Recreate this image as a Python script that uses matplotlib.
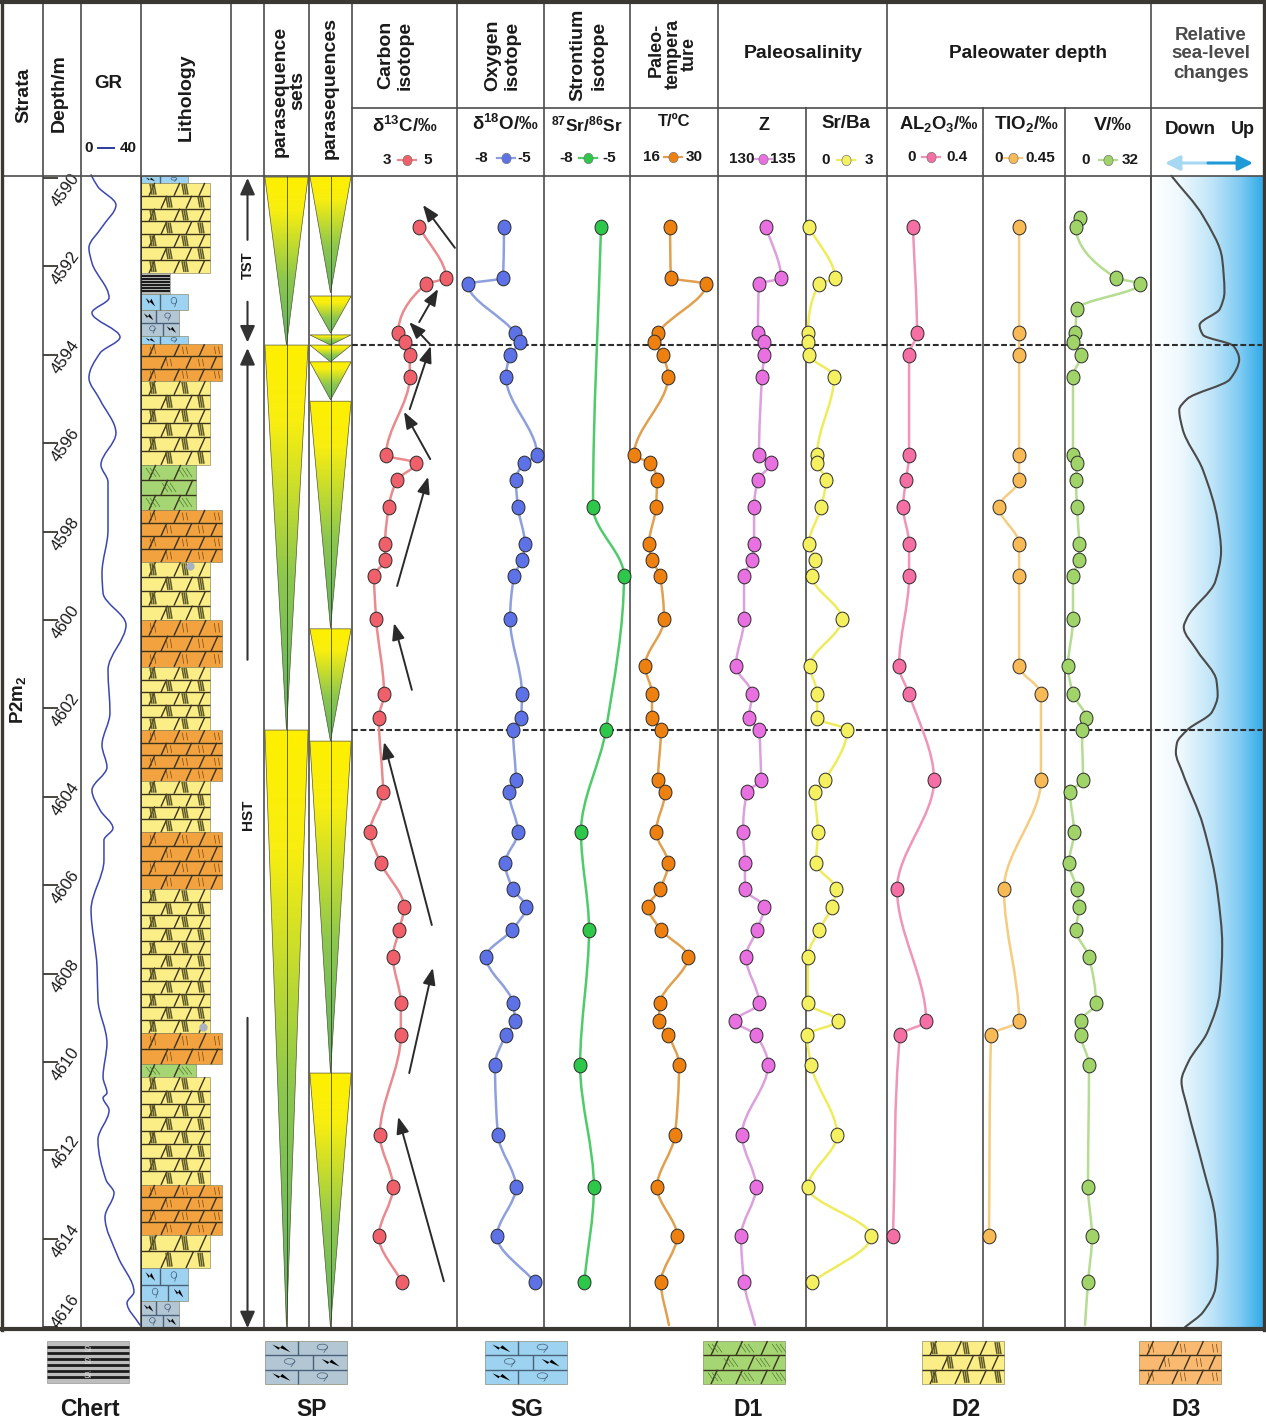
#!/usr/bin/python
# stratigraphic column with isotope / geochemistry logs
import numpy as np
import matplotlib
matplotlib.use("Agg")
import matplotlib.pyplot as plt
from matplotlib.collections import LineCollection
from matplotlib.colors import LinearSegmentedColormap
from matplotlib.markers import MarkerStyle
from matplotlib.patches import Ellipse, PathPatch, Polygon, Rectangle
from matplotlib.path import Path
from matplotlib.transforms import Affine2D

plt.rcParams["font.family"] = ["Liberation Sans", "DejaVu Sans"]
plt.rcParams["mathtext.default"] = "regular"

n = float("nan")

# sample depths, shared by all the logs (m)
depth = [4590.90, 4591.11, 4592.26, 4592.40, 4592.96, 4593.51, 4593.71, 4594.00, 4594.50, 4596.27,
         4596.45, 4596.83, 4597.44, 4598.28, 4598.64, 4599.00, 4599.98, 4601.04, 4601.67, 4602.22,
         4602.49, 4603.62, 4603.89, 4604.80, 4605.50, 4606.09, 4606.49, 4607.01, 4607.62, 4608.67,
         4609.07, 4609.39, 4610.07, 4611.65, 4612.83, 4613.94, 4614.98]
carbon = [n, 4.28, 4.79, 4.41, n, 3.88, 4.01, 4.10, 4.10, 3.65, 4.22, 3.86, 3.70, 3.63, 3.63, 3.42, 3.46, n, 3.61,
          3.51, n, n, 3.59, 3.34, 3.55, n, 3.99, 3.90, 3.78, 3.93, n, 3.93, n, 3.53, 3.78, 3.51, 3.95]
oxygen = [n, -6.38, -6.41, -7.62, n, -6.00, -5.83, -6.17, -6.31, -5.24, -5.69, -5.97, -5.90, -5.66, -5.76, -6.03,
          -6.17, n, -5.76, -5.79, -6.07, -5.97, -6.21, -5.90, -6.34, -6.07, -5.62, -6.10, -7.00, -6.07, -6.00,
          -6.31, -6.69, -6.59, -5.97, -6.62, -5.31]
strontium = [n, -6.01, n, n, n, n, n, n, n, n, n, n, -6.29, n, n, -5.21, n, n, n, n, -5.84, n, n, -6.71, n, n, n,
             -6.43, n, n, n, n, -6.74, n, -6.26, n, -6.60]
temperature = [n, 22.36, 22.52, 28.09, n, 20.45, 19.82, 21.25, 22.05, 16.64, 19.18, 20.30, 20.14, 19.02, 19.50,
               20.77, 21.41, 18.39, 19.50, 19.50, 20.93, 20.45, 21.57, 20.14, 22.05, 20.77, 18.86, 20.93, 25.23,
               20.77, 20.61, 22.05, 23.80, 23.16, 20.30, 23.48, 20.93]
z_value = [n, 132.73, 133.58, 132.33, n, 132.27, 132.61, 132.61, 132.50, 132.33, 133.01, 132.27, 132.05, 132.05,
           131.93, 131.48, 131.48, 131.02, 131.93, 131.76, 132.33, 132.44, 131.65, 131.42, 131.53, 131.53, 132.61,
           132.22, 131.59, 132.33, 130.97, 132.16, 132.84, 131.36, 132.16, 131.31, 131.48]
sr_ba = [n, 0.11, 1.07, 0.48, n, 0.07, 0.07, 0.11, 1.04, 0.41, 0.41, 0.74, 0.56, 0.11, 0.33, 0.22, 1.33, 0.15, 0.41,
         0.41, 1.52, 0.70, 0.33, 0.44, 0.37, 1.11, 0.96, 0.48, 0.07, 0.07, 1.19, 0.04, 0.19, 1.15, 0.07, 2.41, 0.22]
al2o3 = [n, .108, n, n, n, .125, n, .092, n, .092, n, .079, .067, .092, n, .092, n, .050, .092, n, n, .196, n, n, n,
         .042, n, n, n, n, .163, .054, n, n, n, .025, n]
tio2 = [n, .198, n, n, n, .198, n, .198, n, .198, n, .198, .088, .198, n, .198, n, .198, .318, n, n, .318, n, n, n,
        .115, n, n, n, n, .198, .044, n, n, n, .033, n]
vanadium = [5.58, 4.09, 18.98, 27.91, 4.47, 3.72, 2.98, 5.95, 2.98, 2.98, 4.47, 4.09, 4.47, 5.21, 5.21, 2.98, 2.98,
            1.12, 2.98, 7.81, 6.33, 6.70, 1.86, 3.35, 1.49, 4.47, 5.21, 4.09, 8.93, 11.53, 5.95, 5.95, 8.93, n,
            8.56, 10.05, 8.56]

# three logs run on below the last sample
tail_depth = 4615.95
temperature_tail = 22.2
z_tail = 132.1
vanadium_tail = 7.44

gr_depth = [4589.93, 4590.20, 4590.61, 4591.11, 4591.58, 4591.92, 4592.71, 4593.05, 4593.60, 4593.96, 4594.52,
            4595.02, 4595.77, 4596.49, 4596.88, 4597.96, 4598.94, 4599.39, 4600.11, 4601.13, 4602.10, 4602.83,
            4603.33, 4603.85, 4604.30, 4604.71, 4604.98, 4605.43, 4606.56, 4607.85, 4608.60, 4609.57, 4610.34,
            4610.70, 4610.81, 4611.09, 4611.76, 4612.67, 4612.96, 4613.51, 4614.41, 4615.20, 4615.45, 4615.95]
gr_value = [6.7, 11.3, 23.3, 14, 5.3, 7.3, 18.7, 7.3, 26, 12.7, 5.3, 12.7, 23.3, 13.3, 18, 18, 14, 14.7, 30, 18, 19.3,
            14, 17.3, 7.3, 12.7, 21.3, 15.3, 15.3, 6.7, 10.7, 11.3, 17.3, 14.7, 17.3, 14.7, 18.7, 11.3, 16.7, 22, 16,
            24.7, 35.3, 30.7, 39.3]

sea_depth = [4589.95, 4590.86, 4591.83, 4592.58, 4592.96, 4593.33, 4593.55, 4593.80, 4594.10, 4594.55, 4595.00,
             4595.25, 4595.68, 4596.61, 4597.76, 4598.44, 4599.12, 4599.95, 4600.16, 4600.70, 4601.38, 4601.70,
             4602.08, 4602.49, 4602.78, 4602.99, 4603.46, 4604.64, 4606.18, 4607.35, 4608.39, 4609.32, 4610.00,
             4610.43, 4611.02, 4612.38, 4613.57, 4614.43, 4615.11, 4615.66, 4616.00]
sea_level = [.18, .46, .63, .65, .61, .43, .46, .73, .78, .70, .32, .25, .28, .46, .59, .62, .57, .32, .29, .41, .58,
             .59, .54, .32, .23, .22, .28, .46, .59, .63, .61, .50, .33, .27, .32, .46, .57, .59, .57, .46, .30]

# lithology: bed bottoms (tops are the previous bottom), type and grain-size width
lith_top = 4589.95
lith_bottom = [4590.11, 4592.15, 4592.62, 4592.99, 4593.57, 4593.76, 4594.59, 4596.49, 4597.51, 4598.69, 4600.00,
               4601.06, 4602.49, 4603.64, 4604.80, 4606.09, 4609.34, 4610.05, 4610.34, 4612.78, 4613.91, 4614.66,
               4615.41, 4616.02]
lith_kind = ["SG", "D2", "Chert", "SG", "SP", "SG", "D3", "D2", "D1", "D3", "D2", "D3", "D2", "D3", "D2", "D3", "D2",
             "D3", "D1", "D2", "D3", "D2", "SG", "SP"]
lith_width = {"Chert": 29, "SP": 38, "SG": 47, "D1": 55, "D2": 69, "D3": 81}
pebble_x = [49, 62]
pebble_depth = [4598.78, 4609.21]

# systems tracts and cycles (top, bottom)
set_top = [4589.98, 4593.78, 4602.49]
set_bottom = [4593.78, 4602.49, 4616.0]
cycle_top = [4589.95, 4592.67, 4593.55, 4593.78, 4594.16, 4595.05, 4600.20, 4602.74, 4610.25]
cycle_bottom = [4592.60, 4593.51, 4593.78, 4594.16, 4595.02, 4600.18, 4602.74, 4610.25, 4616.0]
surface_depth = [4593.78, 4602.49]

# carbon trend arrows, tail then tip, in carbon/depth units
trend_x0 = [4.96, 4.28, 4.50, 4.10, 4.49, 3.86, 4.14, 4.52, 4.09, 4.75]
trend_d0 = [4591.58, 4593.26, 4593.78, 4595.23, 4596.36, 4599.23, 4601.58, 4606.90, 4610.25, 4614.96]
trend_x1 = [4.35, 4.64, 4.09, 4.50, 3.99, 4.45, 3.80, 3.61, 4.54, 3.88]
trend_d1 = [4590.61, 4592.51, 4593.26, 4593.80, 4595.29, 4596.76, 4600.07, 4602.76, 4607.87, 4611.24]

depth_ticks = list(range(4590, 4617, 2))

W, H = 1266, 1420
D_TOP, D_BOT = 4589.955, 4616.04
Y_TOP, Y_BOT = 176, 1329
LINE = "#4d4d4d"
DARK = "#3b3733"

fig = plt.figure(figsize=(W / 100, H / 100), dpi=100, facecolor="white")


def add_ax(x0, y0, x1, y1, z=2):
    ax = fig.add_axes([x0 / W, 1 - y1 / H, (x1 - x0) / W, (y1 - y0) / H], zorder=z)
    ax.patch.set_alpha(0)
    ax.set_xticks([])
    ax.set_yticks([])
    for s in ax.spines.values():
        s.set_visible(False)
    return ax


def log_ax(x0, x1, xlim, z=2):
    ax = add_ax(x0, Y_TOP, x1, Y_BOT, z)
    ax.set_xlim(*xlim)
    ax.set_ylim(D_BOT, D_TOP)
    return ax


def smooth(ax, xs, ys, color, lw, z=2):
    # monotone cubic of x against depth, so the line never swings past a reading
    p = ax.transData.transform(np.column_stack([xs, ys]))
    x, y = p[:, 0], p[:, 1]
    h = np.diff(y)
    s = np.diff(x) / h
    d = np.zeros(len(x))
    d[0], d[-1] = s[0], s[-1]
    for i in range(1, len(x) - 1):
        if s[i - 1] * s[i] > 0:
            w1, w2 = 2 * h[i] + h[i - 1], h[i] + 2 * h[i - 1]
            d[i] = (w1 + w2) / (w1 / s[i - 1] + w2 / s[i])
    verts, codes = [p[0]], [Path.MOVETO]
    for i in range(len(x) - 1):
        verts += [(x[i] + d[i] * h[i] / 3, y[i] + h[i] / 3),
                  (x[i + 1] - d[i + 1] * h[i] / 3, y[i + 1] - h[i] / 3),
                  p[i + 1]]
        codes += [Path.CURVE4] * 3
    verts = ax.transData.inverted().transform(np.array(verts))
    ax.add_patch(PathPatch(Path(verts, codes), fc="none", ec=color, lw=lw, zorder=z, clip_on=False,
                           capstyle="round"))


oval = MarkerStyle("o", transform=Affine2D().scale(0.88, 1))


def draw_log(x0, x1, xlim, values, line_col, mark_col, tail=None):
    ax = log_ax(x0, x1, xlim, z=3)
    v = np.array(values, dtype=float)
    d = np.array(depth)
    ok = ~np.isnan(v)
    lx, ly = list(v[ok]), list(d[ok])
    if tail is not None:
        lx.append(tail)
        ly.append(tail_depth)
    smooth(ax, lx, ly, line_col, 1.8)
    ax.plot(v[ok], d[ok], ls="none", marker=oval, ms=10.6, mfc=mark_col, mec="#2b2b2b", mew=0.7, zorder=3,
            clip_on=False)
    return ax


# ---- frame and header in pixel coordinates
bg = add_ax(0, 0, W, H, z=0)
bg.set_xlim(0, W)
bg.set_ylim(H, 0)

for x in [43, 81, 141, 231, 264, 309, 352, 457, 544, 630, 718, 806, 887, 983, 1065, 1151]:
    bg.plot([x, x], [2, Y_BOT], color=LINE, lw=1.2, solid_capstyle="butt")
bg.plot([352, 1264], [108, 108], color=LINE, lw=1.2)
# the group headers span several columns, so wipe the sub-column rules above them
bg.add_patch(Rectangle((719, 4), 167, 103, fc="white", ec="none", zorder=3))
bg.add_patch(Rectangle((888, 4), 262, 103, fc="white", ec="none", zorder=3))

# frame goes above the sea-level gradient
frame = add_ax(0, 0, W, H, z=5)
frame.set_xlim(0, W)
frame.set_ylim(H, 0)
frame.plot([2, 1264], [Y_TOP, Y_TOP], color=LINE, lw=1.2)
frame.plot([1151, 1151], [Y_TOP, Y_BOT], color=LINE, lw=1.4)
frame.plot([2, 1264], [2, 2], color=DARK, lw=3)
frame.plot([0, 1266], [1329, 1329], color=DARK, lw=3)
frame.plot([2, 2], [1, 1330], color=DARK, lw=2.4)
frame.plot([1264, 1264], [1, 1330], color=DARK, lw=2.4)


def head(x, y, s, size=14, rot=0, color="#1a1a1a", weight="bold"):
    bg.text(x, y, s, ha="center", va="center", rotation=rot, fontsize=size, color=color, fontweight=weight,
            zorder=6, rotation_mode="anchor")


head(24, 95, "Strata", 14, 90)
head(59, 93, "Depth/m", 14, 90)
head(108, 84, "GR", 13.5)
head(186, 97, "Lithology", 14, 90)
head(280, 91, "parasequence", 14, 90)
head(298, 91, "sets", 14, 90)
head(330, 88, "parasequences", 14, 90)
head(386, 55, "Carbon", 14, 90)
head(405, 55, "isotope", 14, 90)
head(493, 55, "Oxygen", 14, 90)
head(512, 55, "isotope", 14, 90)
head(578, 55, "Strontium", 14, 90)
head(599, 55, "isotope", 14, 90)
head(656, 50, "Paleo-", 13, 90)
head(673, 54, "tempera", 13, 90)
head(689, 54, "ture", 13, 90)
head(803, 53, "Paleosalinity", 14)
head(1028, 53, "Paleowater depth", 13.8)
head(1211, 35, "Relative", 13.5, color="#4a4a4a")
head(1211, 54, "sea-level", 13.5, color="#4a4a4a")
head(1211, 74, "changes", 13.5, color="#4a4a4a")

head(405, 126, "δ$^{13}$C/‰", 13.5)
head(505, 124, "δ$^{18}$O/‰", 13.5)
head(587, 124, "$^{87}$Sr/$^{86}$Sr", 12.5)
head(674, 122, "T/ºC", 12)
head(764, 125, "Z", 13)
head(846, 124, "Sr/Ba", 13.5)
head(939, 124, "AL$_2$O$_3$/‰", 13.2)
head(1026, 124, "TIO$_2$/‰", 13.5)
head(1113, 126, "V/‰", 14)
head(1190, 129, "Down", 13.5)
head(1243, 129, "Up", 13)
head(18, 700, "P2m$_2$", 13.5, 90)

# scale keys under the headers: low label, high label, colours
key_x = [(387, 407, 428, 160), (481, 506, 524, 158), (566, 588, 609, 158), (651, 673, 694, 157), (742, 763, 783, 159),
         (826, 846, 869, 160), (912, 931, 957, 157), (999, 1013, 1040, 158), (1086, 1108, 1130, 160)]
key_low = ["3", "-8", "-8", "16", "130", "0", "0", "0", "0"]
key_high = ["5", "-5", "-5", "30", "135", "3", "0.4", "0.45", "32"]
line_cols = ["#E98A8F", "#8E9FDE", "#4FCB6A", "#E0A050", "#DDA0DE", "#EFEC5C", "#F095B8", "#F5CC80", "#B5DC90"]
mark_cols = ["#F0606A", "#5C72E6", "#2DC84A", "#EE8010", "#E870E0", "#F5F060", "#F56FA5", "#F8BA55", "#A0D468"]
for (xa, xm, xb, y), lo, hi, lc, mc in zip(key_x, key_low, key_high, line_cols, mark_cols):
    head(xa, y, lo, 11)
    head(xb, y, hi, 11)
    bg.plot([xm - 9, xm + 9], [y, y], color=lc, lw=1.6, zorder=5)
    bg.plot([xm], [y], marker=oval, ms=7.5, mfc=mc, mec="#777777", mew=0.5, zorder=5)

head(89, 148, "0", 11)
head(128, 148, "40", 11)
bg.plot([98, 114], [148, 148], color="#2c3a9e", lw=1.4)

bg.annotate("", xy=(1165, 163), xytext=(1208, 163), zorder=5,
            arrowprops=dict(arrowstyle="-|>,head_width=0.45,head_length=0.9", color="#A6D8F2", lw=2.2, shrinkA=0,
                            shrinkB=0, mutation_scale=10))
bg.annotate("", xy=(1253, 163), xytext=(1208, 163), zorder=5,
            arrowprops=dict(arrowstyle="-|>,head_width=0.45,head_length=0.9", color="#1E9AD6", lw=2.2, shrinkA=0,
                            shrinkB=0, mutation_scale=10))


# ---- lithology fills
FILL = {"D2": "#FCEE86", "D3": "#F2A23E", "D1": "#A6D673", "SG": "#9DD2F0", "SP": "#B2C6D4"}
SWATCH_FILL = dict(FILL, D3="#F9B970")


def bricks(ax, x0, x1, y0, y1, kind, rows, px=1.0, fill=None, glyph=1.0):
    # px is the size of one data unit of y in pixels, x data units are pixels
    ax.add_patch(Rectangle((x0, y0), x1 - x0, y1 - y0, fc=fill or FILL[kind], ec="#777755", lw=0.4, zorder=1))
    rule = "#3a3320" if kind in ("D1", "D2", "D3") else "#49627a"
    ys = np.linspace(y0, y1, rows + 1)
    lines = [[(x0, y), (x1, y)] for y in ys[1:-1]]
    marks = []
    for i in range(rows):
        a, b = ys[i], ys[i + 1]
        if kind in ("SG", "SP"):
            xo = x0 + (0.58 if i % 2 else 0.4) * (x1 - x0)
            lines.append([(xo, a), (xo, b)])
            continue
        start = x0 + (20 if i % 2 else 8)
        slant = 0.45 * (b - a) * px
        for xo in np.arange(start, x1 - 3, 25):
            lines.append([(xo, b), (min(xo + slant, x1), a)])
        spots = np.arange(x0 + (28 if i % 2 else 12), x1 - 4, 32)
        for s in spots:
            for k in (-2, 0, 2):
                if kind == "D1":
                    marks.append([(s + k * 2 - 3, a + 0.2 * (b - a)), (s + k * 2 + 3, a + 0.8 * (b - a))])
                elif kind == "D2":
                    marks.append([(s + k - 1, a + 0.08 * (b - a)), (s + k + 1, a + 0.92 * (b - a))])
                elif k != 0:
                    marks.append([(s + k - 0.7, a + 0.2 * (b - a)), (s + k + 0.7, a + 0.8 * (b - a))])
    ax.add_collection(LineCollection(lines, colors=rule, linewidths=1.0, zorder=2))
    mc = {"D1": "#4f7a30", "D2": "#5f5a2a", "D3": "#7a4a14"}.get(kind, "k")
    if marks:
        ax.add_collection(LineCollection(marks, colors=mc, linewidths=1.1 if kind == "D2" else 0.5, zorder=2))
    if kind in ("SG", "SP"):
        for i in range(rows):
            a, b = ys[i], ys[i + 1]
            u = b - a
            xw = x0 + (0.2 if i % 2 == 0 else 0.8) * (x1 - x0)
            xs = x0 + (0.7 if i % 2 == 0 else 0.3) * (x1 - x0)
            g = glyph
            ax.add_patch(Polygon([(xw - 6 * g, a + 0.25 * u), (xw + 6 * g, a + 0.78 * u), (xw + 1, a + 0.3 * u),
                                  (xw - 2 * g, a + 0.6 * u)], fc="k", ec="none", zorder=3))
            ax.add_patch(Ellipse((xs, a + 0.42 * u), 7 * g, 0.4 * u, fc="none", ec="#44607a", lw=0.5, zorder=3))
            ax.plot([xs + 3.5 * g, xs + 1 * g], [a + 0.42 * u, a + 0.8 * u], color="#44607a", lw=0.5, zorder=3)


def chert(ax, x0, x1, y0, y1, bands, lw=1.5):
    ax.add_patch(Rectangle((x0, y0), x1 - x0, y1 - y0, fc="#BDBDBD", ec="#888888", lw=0.4, zorder=1))
    ys = np.linspace(y0, y1, bands + 2)[1:-1]
    ax.add_collection(LineCollection([[(x0, y), (x1, y)] for y in ys], colors="#1c1c1c", linewidths=lw, zorder=2))


lith = log_ax(141, 231, (0, 90))
y_px = (Y_BOT - Y_TOP) / (D_BOT - D_TOP)
tops = [lith_top] + lith_bottom[:-1]
for t, b, k in zip(tops, lith_bottom, lith_kind):
    h = b - t
    if k == "Chert":
        chert(lith, 0, lith_width[k], t, b, 6)
    elif k in ("SG", "SP"):
        bricks(lith, 0, lith_width[k], t, b, k, max(1, int(round(h * y_px / 15))), y_px, glyph=0.8)
    else:
        bricks(lith, 0, lith_width[k], t, b, k, max(1, int(round(h * y_px / 13.5))), y_px)
lith.plot(pebble_x, pebble_depth, ls="none", marker="o", ms=6, mfc="#AAB2C2", mec="none", zorder=4)
lith.plot([0, 0], [D_TOP, D_BOT], color="#222222", lw=1.2, zorder=5)


# ---- legend swatches at the bottom
swatch_x = [47, 265, 485, 703, 922, 1139]
swatch_names = ["Chert", "SP", "SG", "D1", "D2", "D3"]
label_x = [90, 312, 527, 748, 966, 1186]
for x, name, lx in zip(swatch_x, swatch_names, label_x):
    if name == "Chert":
        chert(bg, x, x + 82, 1341, 1383, 6, lw=2.0)
        for yy in (1349, 1361, 1376):
            bg.text(x + 41, yy, "Si", fontsize=6.5, color="#dddddd", ha="center", va="center", zorder=4)
    else:
        bricks(bg, x, x + 82, 1341, 1384, name, 3, 1.0, fill=SWATCH_FILL[name], glyph=1.5)
    head(lx, 1410, name, 16.5)

# ---- sea level gradient
sea_cmap = LinearSegmentedColormap.from_list("sea", [(0, "#FFFFFF"), (0.25, "#F0F9FE"), (0.55, "#BDE4F8"), (0.8, "#7CCAF2"),
                                                     (1, "#2FA9E8")])
sea = log_ax(1151, 1264, (0, 1), z=1)
sea.imshow(np.linspace(0, 1, 256).reshape(1, -1), extent=(0, 1, D_BOT, D_TOP), aspect="auto", cmap=sea_cmap, zorder=1)
sea.set_xlim(0, 1)
sea.set_ylim(D_BOT, D_TOP)
smooth(sea, sea_level, sea_depth, "#4a4a4a", 1.5)

# ---- dashed sequence surfaces
dash = log_ax(352, 1262, (0, 1), z=1.5)
for d in surface_depth:
    dash.axhline(d, color="#2e2e2e", lw=1.5, ls=(0, (2.8, 1.3)))

# ---- depth axis
dep = log_ax(43, 81, (0, 38))
dep.set_yticks(depth_ticks)
dep.set_yticklabels([])
dep.tick_params(axis="y", direction="in", length=11, width=1.3, color=DARK, left=True)
for tk in depth_ticks:
    off = 0.05
    if tk == 4590:
        off = 0.27
    if tk == 4616:
        off = -0.36
    dep.text(23, tk + off, str(tk), rotation=55, ha="center", va="center", fontsize=12, color="#1a1a1a",
             rotation_mode="anchor", clip_on=False)

# ---- GR
gr = log_ax(81, 141, (0, 40))
smooth(gr, gr_value, gr_depth, "#3b46ae", 1.1)

# ---- TST / HST arrows
tract = log_ax(231, 264, (0, 1))
tract_arrows = [(4591.40, 4590.0), (4592.80, 4593.72), (4600.90, 4593.85), (4609.00, 4616.02)]
for start, end in tract_arrows:
    tract.annotate("", xy=(0.5, end), xytext=(0.5, start),
                   arrowprops=dict(arrowstyle="-|>,head_width=0.45,head_length=1.0", color="#333333", lw=1.5,
                                   shrinkA=0, shrinkB=0, mutation_scale=10))
tract.text(0.5, 4591.97, "TST", rotation=90, ha="center", va="center", fontsize=10.5, fontweight="bold",
           color="#1a1a1a")
tract.text(0.53, 4604.40, "HST", rotation=90, ha="center", va="center", fontsize=11, fontweight="bold", color="#1a1a1a")

# ---- parasequence triangles
tri_cmap = LinearSegmentedColormap.from_list("tri", [(0, "#FFF000"), (0.2, "#F8EE10"), (0.6, "#8DC84E"), (1, "#5FB463")])
grad = np.linspace(0, 1, 256).reshape(-1, 1)


def triangles(ax, tops_, bottoms):
    for t, b in zip(tops_, bottoms):
        poly = Polygon([(0.02, t), (0.98, t), (0.5, b)], closed=True, fc="none", ec="#55553a", lw=0.5, zorder=3)
        ax.add_patch(poly)
        im = ax.imshow(grad, extent=(0, 1, b, t), aspect="auto", cmap=tri_cmap, zorder=2)
        im.set_clip_path(poly)
    ax.set_xlim(0, 1)
    ax.set_ylim(D_BOT, D_TOP)
    ax.plot([0.5, 0.5], [D_TOP, 4616.0], color="#2a3a20", lw=0.7, alpha=0.75, zorder=4)


triangles(log_ax(264, 309, (0, 1)), set_top, set_bottom)
triangles(log_ax(309, 352, (0, 1)), cycle_top, cycle_bottom)

# ---- geochemical logs
c_ax = draw_log(352, 457, (3, 5), carbon, line_cols[0], mark_cols[0])
draw_log(457, 544, (-8, -5), oxygen, line_cols[1], mark_cols[1])
draw_log(544, 630, (-8, -5), strontium, line_cols[2], mark_cols[2])
draw_log(630, 718, (16, 30), temperature, line_cols[3], mark_cols[3], temperature_tail)
draw_log(718, 806, (130, 135), z_value, line_cols[4], mark_cols[4], z_tail)
draw_log(806, 887, (0, 3), sr_ba, line_cols[5], mark_cols[5])
draw_log(887, 983, (0, 0.4), al2o3, line_cols[6], mark_cols[6])
draw_log(983, 1065, (0, 0.45), tio2, line_cols[7], mark_cols[7])
draw_log(1065, 1151, (0, 32), vanadium, line_cols[8], mark_cols[8], vanadium_tail)

for x0, d0, x1, d1 in zip(trend_x0, trend_d0, trend_x1, trend_d1):
    c_ax.annotate("", xy=(x1, d1), xytext=(x0, d0),
                  arrowprops=dict(arrowstyle="-|>,head_width=0.38,head_length=1.0", color="#2a2a2a", lw=1.4,
                                  shrinkA=0, shrinkB=0, mutation_scale=10), zorder=4)

fig.savefig("out.png", dpi=100)
